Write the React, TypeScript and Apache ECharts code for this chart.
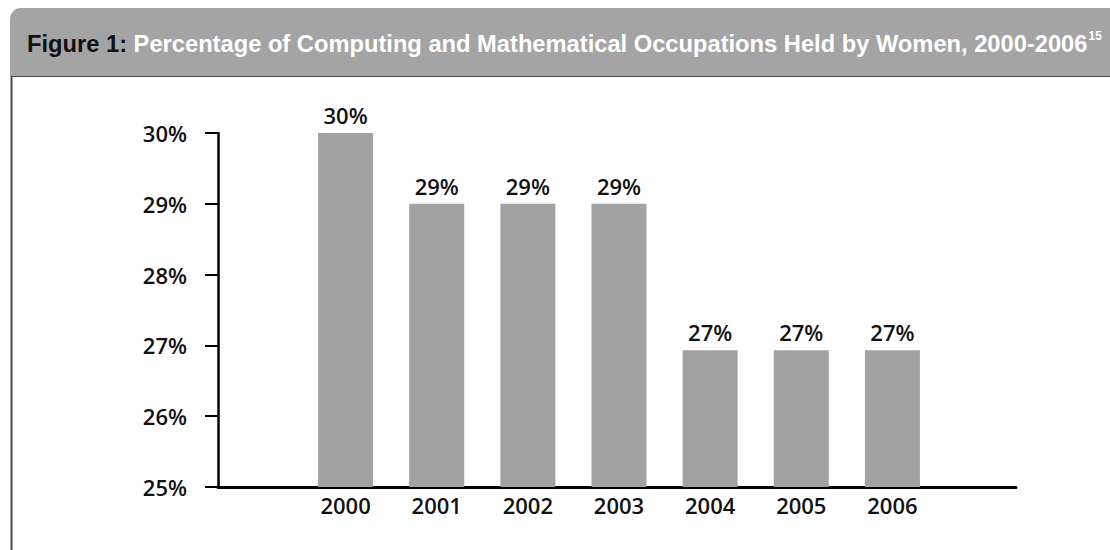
import React, { useEffect, useRef } from "react";
import * as echarts from "echarts";

const years = ["2000", "2001", "2002", "2003", "2004", "2005", "2006"];
const womenShare = [30, 29, 29, 29, 26.93, 26.93, 26.93];
const shareLabels = ["30%", "29%", "29%", "29%", "27%", "27%", "27%"];
const yMin = 25;
const yMax = 30;
const yStep = 1;

const titleLead = "Figure 1:";
const titleRest = " Percentage of Computing and Mathematical Occupations Held by Women, 2000-2006";
const titleNote = "15";

const FONT = "'Open Sans', 'Liberation Sans', sans-serif";
const TITLE_FONT = "'Liberation Sans', Arial, sans-serif";

export default function App() {
  const ref = useRef<HTMLDivElement>(null);

  useEffect(() => {
    if (!ref.current) return;
    const chart = echarts.init(ref.current, null, { renderer: "svg" });
    const top = 133;
    const bottom = 63;

    chart.setOption({
      animation: false,
      backgroundColor: "#ffffff",
      grid: [
        { left: 300, right: 172, top, bottom },
        { left: 218, right: 94, top, bottom },
      ],
      xAxis: [
        {
          type: "category",
          gridIndex: 0,
          data: years,
          axisLine: { show: false },
          axisTick: { show: false },
          axisLabel: {
            margin: 7,
            color: "#111",
            fontFamily: FONT,
            fontWeight: 600,
            fontSize: 22,
          },
        },
        {
          type: "value",
          gridIndex: 1,
          min: 0,
          max: 1,
          axisLine: { show: true, onZero: false, lineStyle: { color: "#000", width: 3 } },
          axisTick: { show: false },
          axisLabel: { show: false },
          splitLine: { show: false },
        },
      ],
      yAxis: [
        {
          type: "value",
          gridIndex: 0,
          min: yMin,
          max: yMax,
          interval: yStep,
          show: false,
          splitLine: { show: false },
        },
        {
          type: "value",
          gridIndex: 1,
          min: yMin,
          max: yMax,
          interval: yStep,
          axisLine: { show: true, lineStyle: { color: "#000", width: 2.5 } },
          axisTick: { show: true, length: 13, lineStyle: { color: "#000", width: 2 } },
          axisLabel: {
            margin: 31,
            color: "#111",
            fontFamily: FONT,
            fontWeight: 600,
            fontSize: 22,
            formatter: (v: number) => `${v}%`,
          },
          splitLine: { show: false },
        },
      ],
      series: [
        {
          type: "bar",
          xAxisIndex: 0,
          yAxisIndex: 0,
          data: womenShare,
          barWidth: 55,
          itemStyle: { color: "#a2a2a2" },
          label: {
            show: true,
            position: "top",
            distance: 7,
            color: "#111",
            fontFamily: FONT,
            fontWeight: 600,
            fontSize: 22,
            formatter: (p: any) => shareLabels[p.dataIndex],
          },
        },
      ],
      graphic: [
        {
          type: "rect",
          silent: true,
          shape: { x: 11.5, y: 76, width: 1300, height: 700 },
          style: { fill: "none", stroke: "#4a4a4a", lineWidth: 2 },
        },
        {
          type: "rect",
          silent: true,
          shape: { x: 10, y: 8, width: 1200, height: 68, r: [11, 0, 0, 0] },
          style: { fill: "#a4a4a4" },
        },
        {
          type: "text",
          silent: true,
          x: 27,
          y: 44,
          style: {
            text: `{f|${titleLead}}{w|${titleRest}}{s|${titleNote}}`,
            verticalAlign: "middle",
            rich: {
              f: {
                fontFamily: TITLE_FONT,
                fontWeight: "bold",
                fontSize: 23.7,
                fill: "#111",
                lineHeight: 28,
              },
              w: {
                fontFamily: TITLE_FONT,
                fontWeight: "bold",
                fontSize: 23.7,
                fill: "#ffffff",
                lineHeight: 28,
              },
              s: {
                fontFamily: TITLE_FONT,
                fontWeight: "bold",
                fontSize: 12,
                fill: "#ffffff",
                verticalAlign: "top",
                lineHeight: 28,
                padding: [0, 0, 12, 1],
              },
            },
          },
        },
      ],
    });

    return () => chart.dispose();
  }, []);

  return (
    <div
      ref={ref}
      style={{ position: "absolute", left: 0, top: 0, width: 1110, height: 550, background: "#fff" }}
    />
  );
}
